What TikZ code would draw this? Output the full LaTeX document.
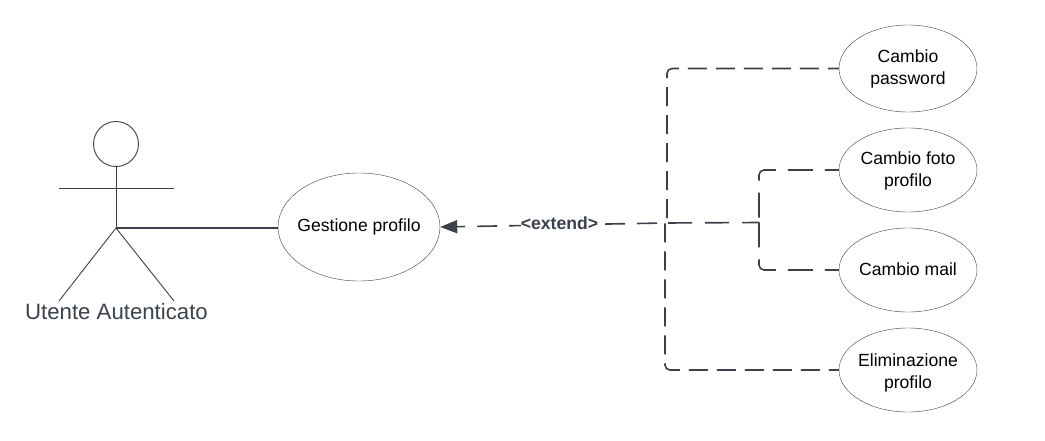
\documentclass[tikz,border=0pt]{standalone}
\usepackage{fontspec}
\setmainfont{Liberation Sans}
\usetikzlibrary{arrows.meta,shapes.geometric}
\definecolor{linegray}{HTML}{3A414A}
\tikzset{
    usecase/.style={draw=linegray,ellipse,minimum width=138pt,minimum height=84pt,inner sep=-20pt,align=center,font=\fontsize{17.6}{22}\selectfont},
    actorline/.style={draw=linegray,line width=0.9pt},
    assoc/.style={draw=linegray,line width=1.8pt},
    extline/.style={draw=linegray,line width=1.6pt,rounded corners=5pt},
}
\begin{document}
\begin{tikzpicture}[x=1pt,y=-1pt]
    \useasboundingbox (0,0) rectangle (1045,441);
    % use cases
    \node[usecase,minimum width=162pt,minimum height=108pt] (gestione) at (359,227) {Gestione profilo};
    \node[usecase,minimum height=87pt] (password) at (908,68.5) {Cambio\\password};
    \node[usecase] (foto) at (908,170) {\rule{0pt}{15pt}Cambio foto\\profilo};
    \node[usecase] (mail) at (908,270) {\raisebox{2pt}{Cambio mail}};
    \node[usecase] (elimina) at (908,370) {\rule{0pt}{18pt}Eliminazione\\profilo};
    % actor
    \node[draw=linegray,line width=0.9pt,circle,minimum size=45pt,inner sep=0pt] (head) at (116,144) {};
    \coordinate (hip) at (116,228);
    \coordinate (armL) at (59,188);
    \coordinate (armR) at (174,188);
    \coordinate (footL) at (59,301);
    \coordinate (footR) at (174,301);
    \draw[actorline] (head.south) -- (hip);
    \draw[actorline] (armL) -- (armR);
    \draw[actorline] (footL) -- (hip) -- (footR);
    \node[text=linegray,font=\fontsize{22.2}{26}\selectfont] (utente) at (116.5,312) {Utente Autenticato};
    % connectors
    \draw[assoc] (hip) -- (hip -| gestione.west);
    \coordinate (branchA) at (667,223);
    \coordinate (branchC) at (665,223);
    \coordinate (branchB) at (759,222.5);
    \draw[extline,dash pattern=on 19pt off 9pt,dash phase=8pt] (password.west) -- (667,68.5) -- (branchA);
    \draw[extline,dash pattern=on 19pt off 9pt,dash phase=9pt] (elimina.west) -- (665,370) -- (branchC);
    \draw[extline,dash pattern=on 25pt off 12pt,dash phase=11pt] (foto.west) -- (759,170) -- (branchB);
    \draw[extline,dash pattern=on 25pt off 12pt,dash phase=11pt] (mail.west) -- (759,270) -- (branchB);
    \draw[extline,dash pattern=on 24pt off 13pt,dash phase=7pt] (branchB) -- (branchA);
    \draw[extline,dash pattern=on 20pt off 12pt,dash phase=24pt,-{Triangle[length=17pt,width=13pt]}] (branchC) -- (gestione.east);
    \node[fill=white,inner sep=0pt,text=linegray,font=\fontsize{17.6}{20}\selectfont\bfseries] (extend) at (559.5,223) {<extend>};
\end{tikzpicture}
\end{document}
